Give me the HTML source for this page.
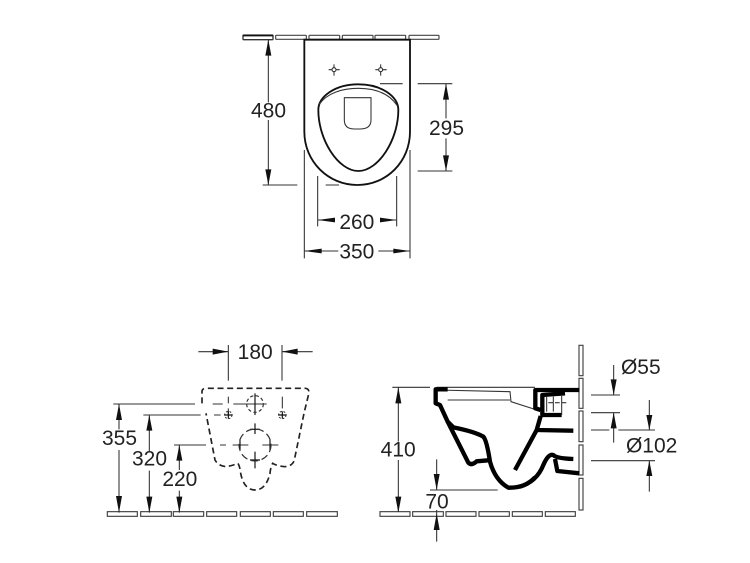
<!DOCTYPE html>
<html>
<head>
<meta charset="utf-8">
<style>
html,body{margin:0;padding:0;background:#fff}
svg{display:block;filter:blur(.35px)}
text{font-family:"Liberation Sans",sans-serif;font-size:63px;fill:#222}
.t{fill:#fff;stroke:#444;stroke-width:3.5}
.l{fill:none;stroke:#333;stroke-width:3.2}
.b{fill:none;stroke:#000;stroke-width:13;stroke-linejoin:round}
.d{fill:none;stroke:#222;stroke-width:5}
.h{fill:#111;stroke:none}
</style>
</head>
<body>
<svg width="750" height="563" viewBox="0 0 750 563" xmlns="http://www.w3.org/2000/svg">
<rect width="750" height="563" fill="#fff"/>

<!-- TOP VIEW -->
<g transform="translate(235,25) scale(.33333)">
  <rect x="24" y="30" width="90" height="14" rx="2" fill="#fff" stroke="#333" stroke-width="4"/>
  <path d="M24,32H114" stroke="#111" stroke-width="4"/>
  <rect class="t" x="122" y="31" width="92" height="12" rx="2"/>
  <rect class="t" x="222" y="31" width="92" height="12" rx="2"/>
  <rect class="t" x="322" y="31" width="92" height="12" rx="2"/>
  <rect class="t" x="420" y="31" width="92" height="12" rx="2"/>
  <rect class="t" x="522" y="31" width="90" height="12" rx="2"/>
  <path d="M208,44 L208,320 C208,410 280,480 367,480 C455,480 525,410 525,320 L525,44 Z" fill="#fff" stroke="#111" stroke-width="5.5"/>
  <path d="M250,255 C250,215 300,178 370,178 C440,178 490,215 490,255 C490,345 430,438 370,438 C310,438 250,345 250,255Z" fill="#fff" stroke="#111" stroke-width="5.5"/>
  <path class="l" d="M253,238 C275,205 320,190 370,190 C420,190 462,205 487,242"/>
  <path d="M328,218 L408,218 L408,285 Q408,312 375,312 L358,312 Q328,312 328,285 Z" fill="none" stroke="#333" stroke-width="3.2"/>
  <g class="l">
    <circle cx="297" cy="134" r="6"/><path d="M297,118V128M297,140V152M281,134H291M303,134H314"/>
    <circle cx="437" cy="134" r="6"/><path d="M437,118V128M437,140V152M421,134H431M443,134H455"/>
    <path d="M435,176H503M548,176H652M548,438H652M83,480H187M272,480H312"/>
    <path d="M100,44V232M100,285V480M633,176V280M633,340V438"/>
    <path d="M208,375V700M525,375V700M248,453V604M485,453V604"/>
  </g>
  <path class="h" d="M100,44L109,92H91ZM100,480L109,433H91ZM633,176L642,224H624ZM633,438L642,391H624Z"/>
  <text x="48" y="277">480</text>
  <text x="582" y="330">295</text>
  <!-- 260 / 350 -->
  <g class="l"><path d="M248,585H300M435,585H485M208,678H310M430,678H525"/></g>
  <path class="h" d="M248,585L300,578V592ZM485,585L435,578V592ZM208,678L260,671V685ZM525,678L475,671V685Z"/>
  <text x="313" y="612">260</text>
  <text x="313" y="700">350</text>
</g>

<!-- FRONT VIEW -->
<g transform="translate(100,340) scale(.33333)">
  <g>
    <rect class="t" x="22" y="515" width="90" height="14"/>
    <rect class="t" x="122" y="515" width="92" height="14"/>
    <rect class="t" x="220" y="515" width="91" height="14"/>
    <rect class="t" x="320" y="515" width="90" height="14"/>
    <rect class="t" x="421" y="515" width="90" height="14"/>
    <rect class="t" x="520" y="515" width="90" height="14"/>
    <rect class="t" x="620" y="515" width="92" height="14"/>
  </g>
  <g class="l">
    <path d="M295,35H385M546,35H638M385,15V122M546,15V122"/>
    <path d="M40,192H285M130,225H302M222,315H318"/>
    <path d="M57,192V268M57,330V518M148,225V335M148,392V518M238,315V390M238,452V518"/>
    <path d="M338,192H368M400,192H500M342,225H362M360,315H378M398,315H445M487,315H535"/>
    <path d="M385,170V190M385,205V225M547,170V205"/>
  </g>
  <g fill="none" stroke="#111" stroke-width="3.5">
    <path d="M465,160V225M465,250V282M465,335V385M420,300V330M510,300V330M450,268H480M450,360H480M372,225H398M534,225H560M385,214V236M547,214V236"/>
  </g>
  <path class="h" d="M385,35L338,26V44ZM546,35L593,26V44ZM57,192L66,240H48ZM57,518L66,468H48ZM148,225L157,272H139ZM148,518L157,470H139ZM238,315L247,362H229ZM238,518L247,470H229Z"/>
  <text x="6" y="315">355</text>
  <text x="96" y="377">320</text>
  <text x="187" y="438">220</text>
  <text x="413" y="57">180</text>
  <path class="d" stroke-dasharray="18 11" d="M306,190 L306,155 Q306,145 318,145 L615,145 Q627,145 627,158 L612,220 L583,360 Q578,378 555,380 Q530,378 518,370 Q512,380 510,400 Q498,450 465,450 Q432,450 422,400 Q420,380 414,370 Q395,378 378,380 Q355,378 345,360 L318,220"/>
  <circle fill="none" stroke="#333" stroke-width="3.5" cx="465" cy="192" r="25" stroke-dasharray="10 7"/>
  <circle fill="none" stroke="#333" stroke-width="3.5" cx="465" cy="315" r="48" stroke-dasharray="22 11"/>
  <circle fill="none" stroke="#333" stroke-width="3" cx="385" cy="225" r="11" stroke-dasharray="6 5"/>
  <circle fill="none" stroke="#333" stroke-width="3" cx="547" cy="225" r="11" stroke-dasharray="6 5"/>
</g>

<!-- SIDE VIEW (left part) -->
<g transform="translate(375,340) scale(.33333)">
  <rect class="t" x="15" y="515" width="90" height="14"/>
  <rect class="t" x="113" y="515" width="92" height="14"/>
  <rect class="t" x="213" y="515" width="90" height="14"/>
  <rect class="t" x="312" y="515" width="91" height="14"/>
  <rect class="t" x="412" y="515" width="90" height="14"/>
  <rect class="t" x="511" y="515" width="90" height="14"/>
  <g class="l">
    <path d="M52,142H165M185,142H480M185,150L405,155L408,185L480,208M218,180H405"/>
    <path d="M70,142V305M70,360V515M165,450H368M185,358V450M185,510V605"/>
  </g>
  <path class="h" d="M70,142L79,190H61ZM70,518L79,470H61ZM185,450L194,402H176ZM185,520L194,570H176Z"/>
  <text x="17" y="350">410</text>
  <text x="151" y="505">70</text>
  <path class="b" d="M218,148 L182,148 L182,190 L195,195 L218,245 L235,262 Q300,275 325,290 Q335,300 345,365 Q360,420 400,443 Q450,445 480,412"/>
  <path class="b" d="M218,245 L280,368 Q290,378 305,364 L340,361"/>
</g>

<!-- SIDE VIEW (right part) -->
<g transform="translate(520,340) scale(.33333)">
  <rect class="t" x="177" y="16" width="12" height="91"/>
  <rect class="t" x="177" y="115" width="12" height="90"/>
  <rect class="t" x="177" y="213" width="12" height="92"/>
  <rect class="t" x="177" y="315" width="12" height="90"/>
  <rect class="t" x="177" y="415" width="12" height="95"/>
  <path class="b" d="M178,150 L46,150 L46,205 L62,210"/>
  <path class="b" d="M135,160 L67,165 L67,225 L125,225"/>
  <path class="b" d="M62,228 L50,270 L160,272"/>
  <path class="b" d="M50,270 L-15,390"/>
  <path class="b" d="M0,440 Q50,425 70,375 Q85,340 100,345 Q108,355 160,357"/>
  <path class="b" d="M105,357 L112,393 L178,400"/>
  <g class="l">
    <path d="M80,170V215M100,170V215M125,165V225"/>
    <path d="M85,188H140" stroke-dasharray="14 6"/>
    <path d="M213,165H300M213,218H300M213,270H268M295,270H405M213,362H405"/>
    <path d="M281,75V165M281,218V308M388,180V270M388,362V455"/>
  </g>
  <path class="h" d="M281,165L290,118H272ZM281,218L290,265H272ZM388,270L397,225H379ZM388,362L397,408H379Z"/>
  <text x="303" y="102">Ø55</text>
  <text x="318" y="338">Ø102</text>
</g>
</svg>
</body>
</html>
